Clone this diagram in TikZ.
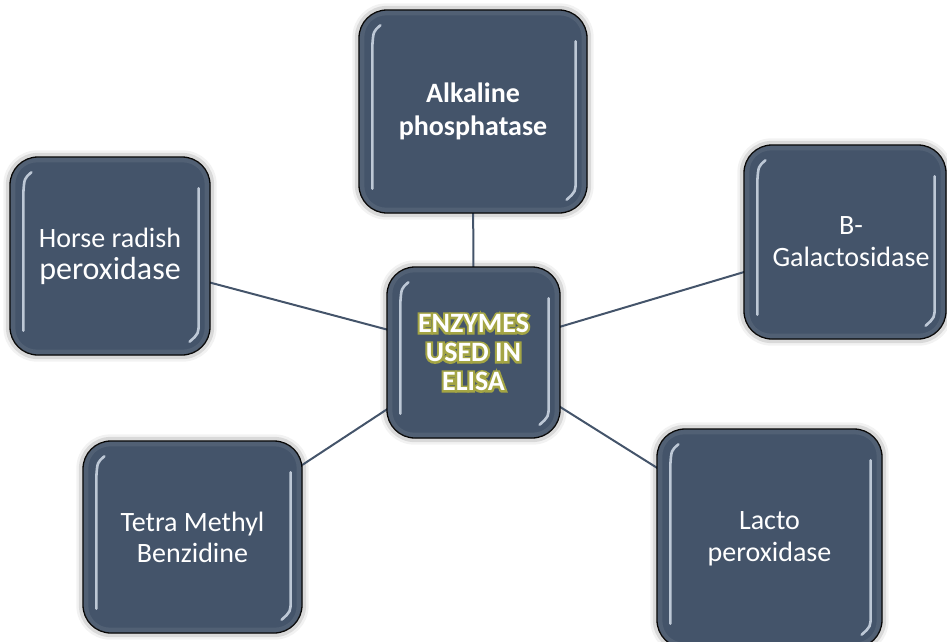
\documentclass[tikz,border=0pt]{standalone}
\usepackage{fontspec}
\setmainfont{Carlito}
\newfontfamily\glowfont[FakeBold=15]{Carlito Bold}
\usetikzlibrary{calc,backgrounds}
\definecolor{boxfill}{HTML}{44546A}
\definecolor{glowc}{HTML}{A4A544}
\definecolor{hilite}{HTML}{DCE6F2}
\newcommand{\glw}[1]{\rlap{\color{glowc}\glowfont #1}#1}
\tikzset{
  ebox/.style={draw=black, line width=1.3pt, fill=boxfill, rounded corners=28pt,
    text=white, align=center, font=\fontsize{28}{32}\selectfont, inner sep=0pt},
  link/.style={draw=boxfill, line width=2pt},
  shine/.style={draw=hilite, line width=2.6pt, line cap=round, opacity=0.8},
  bevel/.style={draw=white, line width=5pt, rounded corners=24pt, opacity=0.07},
  halo/.style={draw=black, rounded corners=30pt, opacity=0.10},
}
\newcommand{\gbox}[7][]{%
  \node[ebox, minimum width={(#5-#3)*1pt}, minimum height={(#6-#4)*1pt}, #1]
    (#2) at ({(#3+#5)/2},{(#4+#6)/2}) {#7};
  \begin{scope}[on background layer]
    \draw[halo, line width=4pt] ($(#2.north west)+(-1.5,-1.5)$) rectangle ($(#2.south east)+(1.5,1.5)$);
    \draw[halo, line width=8pt, opacity=0.05] ($(#2.north west)+(-2,-2)$) rectangle ($(#2.south east)+(2,2)$);
  \end{scope}
  \draw[bevel] ($(#2.north west)+(3.5,3.5)$) rectangle ($(#2.south east)+(-3.5,-3.5)$);
  \draw[shine] ($(#2.north west)+(22,16)$) .. controls ($(#2.north west)+(15,22)$) .. ($(#2.north west)+(14,36)$) -- ($(#2.south west)+(14,-25)$);
  \draw[shine] ($(#2.north east)+(-12,32)$) -- ($(#2.south east)+(-12,-34)$) .. controls ($(#2.south east)+(-12,-22)$) .. ($(#2.south east)+(-21,-14)$);
}
\begin{document}
\begin{tikzpicture}[x=1pt,y=-1pt]
\useasboundingbox (0,0) rectangle (947,641);
\gbox[font=\fontsize{28}{33}\selectfont\bfseries]{alk}{359}{10}{587}{213}{Alkaline\\phosphatase}
\gbox{hrp}{10}{157}{210}{355}{Horse radish\\{\fontsize{32}{36}\selectfont peroxidase}}
\gbox[font=\fontsize{28}{29}\selectfont\bfseries]{ctr}{387}{267}{560}{438}{\glw{ENZYMES}\\\glw{USED IN}\\\glw{ELISA}}
\gbox{bgal}{744}{145}{946}{339}{\hspace*{12pt}B-\\\hspace*{12pt}Galactosidase}
\gbox[font=\fontsize{28}{31}\selectfont]{tmb}{83}{441}{302}{633}{Tetra Methyl\\Benzidine}
\gbox{lpo}{657}{429}{882}{648}{Lacto\\peroxidase}
\begin{scope}[on background layer]
  \draw[link] (ctr.center) -- (alk.center);
  \draw[link] (ctr.center) -- (hrp.center);
  \draw[link] (ctr.center) -- (bgal.center);
  \draw[link] (ctr.center) -- (tmb.center);
  \draw[link] (ctr.center) -- (lpo.center);
\end{scope}
\end{tikzpicture}
\end{document}
